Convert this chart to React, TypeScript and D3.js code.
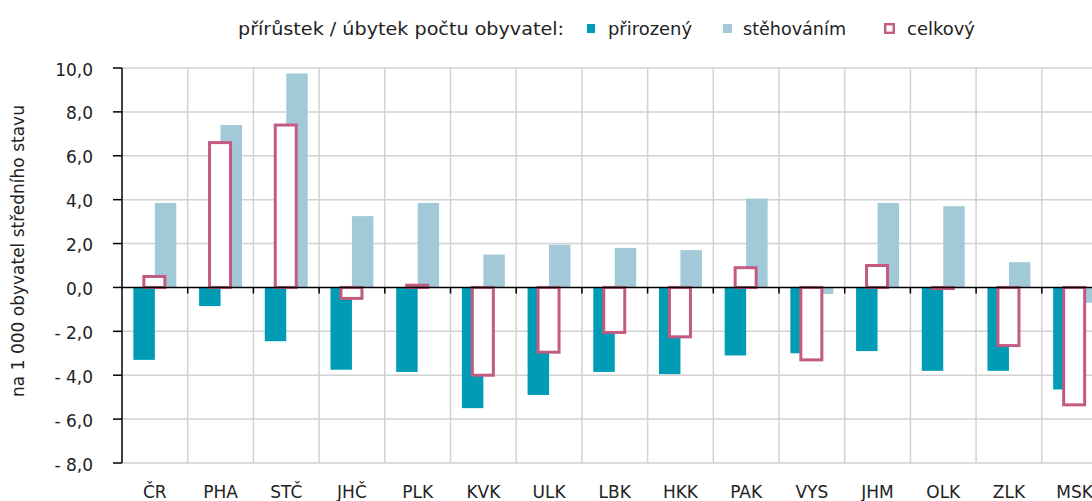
import React from 'react'
import * as d3 from 'd3'

const regions = ['ČR', 'PHA', 'STČ', 'JHČ', 'PLK', 'KVK', 'ULK', 'LBK', 'HKK', 'PAK', 'VYS', 'JHM', 'OLK', 'ZLK', 'MSK']
const natural = [-3.3, -0.85, -2.45, -3.75, -3.85, -5.5, -4.9, -3.85, -3.95, -3.1, -3.0, -2.9, -3.8, -3.8, -4.65]
const migration = [3.85, 7.4, 9.75, 3.25, 3.85, 1.5, 1.95, 1.8, 1.7, 4.05, -0.3, 3.85, 3.7, 1.15, -0.7]
const total = [0.5, 6.6, 7.4, -0.5, 0.1, -4.0, -2.95, -2.05, -2.25, 0.9, -3.3, 1.0, -0.05, -2.65, -5.35]
const yTicks = [10, 8, 6, 4, 2, 0, -2, -4, -6, -8]

const W = 1092
const H = 501
const left = 122
const top = 68
const bottom = 463
const step = 65.7
const font = 'Tahoma, Verdana, "DejaVu Sans", sans-serif'
const cNat = '#009cb5'
const cMig = '#a2c9d7'
const cTot = '#c25a82'

const fmt = (v: number) => {
  const s = Math.abs(v).toFixed(1).replace('.', ',')
  return v < 0 ? '- ' + s : s
}

export default function App() {
  const x = d3.scaleBand().domain(regions).range([left, left + step * regions.length]).padding(0)
  const inner = d3.scaleBand().domain(['nat', 'mig']).range([0, x.bandwidth()]).paddingInner(0).paddingOuter(0.53)
  const y = d3.scaleLinear().domain([-8, 10]).range([bottom, top])
  const bw = inner.bandwidth()
  const right = left + step * regions.length

  const bar = (v: number) => ({ y: Math.min(y(v), y(0)), h: Math.abs(y(v) - y(0)) })

  return (
    <svg width={W} height={H} style={{ position: 'absolute', left: 0, top: 0 }} fontFamily={font}>
      <rect width={W} height={H} fill="#fff" />
      {/* legend */}
      <g fontSize={17} fill="#222">
        <text x={238} y={35} textLength={326} lengthAdjust="spacingAndGlyphs">přírůstek / úbytek počtu obyvatel:</text>
        <rect x={587} y={24} width={8} height={9} fill={cNat} />
        <text x={608} y={35} textLength={84} lengthAdjust="spacingAndGlyphs">přirozený</text>
        <rect x={723} y={24} width={9} height={9} fill={cMig} />
        <text x={743} y={35} textLength={103} lengthAdjust="spacingAndGlyphs">stěhováním</text>
        <rect x={885.2} y={24.2} width={8.6} height={8.6} fill="#fff" stroke={cTot} strokeWidth={2.4} />
        <text x={907} y={35} textLength={68} lengthAdjust="spacingAndGlyphs">celkový</text>
      </g>

      {/* grid */}
      <g stroke="#d2d2d2" strokeWidth={1.5}>
        {yTicks.filter(t => t !== 0).map(t => (
          <line key={t} x1={left} x2={right} y1={y(t)} y2={y(t)} />
        ))}
        {regions.slice(1).map(r => (
          <line key={r} x1={x(r)} x2={x(r)} y1={top} y2={bottom} />
        ))}
        <line x1={right} x2={right} y1={top} y2={bottom} />
      </g>

      {/* bars */}
      {regions.map((r, i) => {
        const x0 = x(r) as number
        const n = bar(natural[i])
        const m = bar(migration[i])
        const t = bar(total[i])
        const cx = x0 + x.bandwidth() / 2
        return (
          <g key={r}>
            <rect x={x0 + (inner('nat') as number)} y={n.y} width={bw} height={n.h} fill={cNat} />
            <rect x={x0 + (inner('mig') as number)} y={m.y} width={bw} height={m.h} fill={cMig} />
            <rect x={cx - 11} y={t.y} width={21} height={Math.max(t.h, 1)} fill="#fff" stroke={cTot} strokeWidth={3} />
          </g>
        )
      })}

      {/* axes */}
      <g stroke="#000" strokeWidth={1.5}>
        <line x1={left} x2={left} y1={top} y2={bottom} />
        <line x1={left} x2={right} y1={y(0)} y2={y(0)} />
        {yTicks.map(t => (
          <line key={t} x1={left - 9} x2={left} y1={y(t)} y2={y(t)} />
        ))}
        {regions.slice(1).map(r => (
          <line key={r} x1={x(r)} x2={x(r)} y1={y(0)} y2={y(0) + 6} />
        ))}
      </g>
      <g fontSize={17} fill="#222" textAnchor="end">
        {yTicks.map(t => (
          <text key={t} x={93} y={y(t) + 7.5}>{fmt(t)}</text>
        ))}
      </g>
      <g fontSize={17} fill="#222" textAnchor="middle">
        {regions.map(r => (
          <text key={r} x={(x(r) as number) + x.bandwidth() / 2} y={498}>{r}</text>
        ))}
      </g>
      <text transform="translate(24,251) rotate(-90)" textAnchor="middle" fontSize={17} fill="#222">
        na 1 000 obyvatel středního stavu
      </text>
    </svg>
  )
}
